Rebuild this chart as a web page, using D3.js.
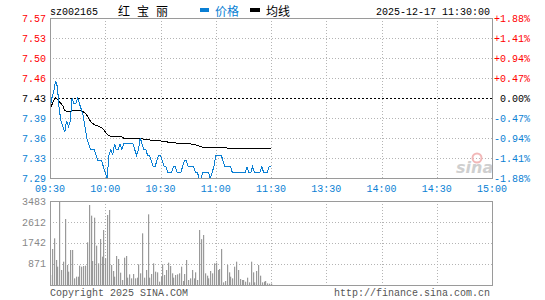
<!DOCTYPE html>
<html>
<head>
<meta charset="utf-8">
<script src="https://cdn.jsdelivr.net/npm/d3@7"></script>
<style>
  body { margin: 0; background: #fff; }
  svg { display: block; }
  text { font-family: "Liberation Mono", "DejaVu Sans Mono", monospace; font-size: 10px; }
</style>
</head>
<body>
<div id="chart"></div>
<script>
// previous close and axis labels
const prevClose = 7.43;
const pctLevels = [1.88, 1.41, 0.94, 0.47, 0, -0.47, -0.94, -1.41, -1.88];
const priceLabels = ["7.57", "7.53", "7.50", "7.46", "7.43", "7.39", "7.36", "7.33", "7.29"];
const pctLabels = ["+1.88%", "+1.41%", "+0.94%", "+0.47%", "0.00%", "-0.47%", "-0.94%", "-1.41%", "-1.88%"];
const timeLabels = ["09:30", "10:00", "10:30", "11:00", "11:30", "13:30", "14:00", "14:30", "15:00"];
const volTicks = [3483, 2612, 1742, 871];

// minute data 09:30 - 11:30
const price = [
  7.41, 7.43, 7.44, 7.46, 7.45, 7.41, 7.39, 7.38, 7.37, 7.39,
  7.38, 7.39, 7.43, 7.42, 7.42, 7.43, 7.42, 7.41, 7.40, 7.38,
  7.36, 7.35, 7.34, 7.34, 7.34, 7.33, 7.32, 7.32, 7.32, 7.31,
  7.30, 7.29, 7.33, 7.34, 7.33, 7.35, 7.34, 7.34, 7.35, 7.34,
  7.35, 7.35, 7.35, 7.35, 7.35, 7.35, 7.34, 7.33, 7.34, 7.36,
  7.35, 7.34, 7.34, 7.33, 7.33, 7.32, 7.31, 7.31, 7.32, 7.33,
  7.33, 7.32, 7.31, 7.31, 7.30, 7.30, 7.30, 7.31, 7.31, 7.30,
  7.30, 7.30, 7.31, 7.32, 7.32, 7.31, 7.31, 7.31, 7.31, 7.30,
  7.30, 7.29, 7.29, 7.30, 7.30, 7.30, 7.30, 7.29, 7.30, 7.31,
  7.33, 7.33, 7.33, 7.33, 7.32, 7.31, 7.31, 7.31, 7.31, 7.30,
  7.30, 7.30, 7.30, 7.30, 7.30, 7.30, 7.30, 7.31, 7.30, 7.30,
  7.31, 7.30, 7.30, 7.30, 7.30, 7.31, 7.30, 7.30, 7.30, 7.31,
  7.31
];

const avgPrice = [
  7.410, 7.418, 7.425, 7.430, 7.428, 7.424, 7.420, 7.416, 7.408, 7.407,
  7.407, 7.407, 7.408, 7.408, 7.408, 7.408, 7.408, 7.408, 7.406, 7.404,
  7.400, 7.395, 7.389, 7.386, 7.384, 7.382, 7.381, 7.380, 7.378, 7.375,
  7.371, 7.367, 7.364, 7.363, 7.363, 7.363, 7.363, 7.363, 7.362, 7.362,
  7.360, 7.360, 7.360, 7.360, 7.360, 7.360, 7.360, 7.360, 7.360, 7.360,
  7.360, 7.357, 7.357, 7.357, 7.357, 7.356, 7.356, 7.356, 7.356, 7.355,
  7.355, 7.354, 7.354, 7.354, 7.353, 7.353, 7.353, 7.352, 7.352, 7.351,
  7.351, 7.351, 7.351, 7.350, 7.350, 7.350, 7.350, 7.349, 7.348, 7.348,
  7.347, 7.346, 7.345, 7.344, 7.344, 7.344, 7.344, 7.344, 7.344, 7.344,
  7.344, 7.343, 7.343, 7.343, 7.343, 7.343, 7.343, 7.342, 7.342, 7.342,
  7.342, 7.342, 7.341, 7.341, 7.341, 7.341, 7.341, 7.341, 7.341, 7.341,
  7.341, 7.341, 7.341, 7.341, 7.341, 7.341, 7.341, 7.341, 7.341, 7.341,
  7.341
];

const volume = [
  415, 1493, 1935, 1037, 760, 3483, 622, 967, 2736, 829,
  553, 1451, 1451, 276, 345, 345, 801, 760, 788, 801,
  1769, 3317, 2875, 995, 2792, 1631, 898, 1907, 1175, 2280,
  1106, 2902, 3110, 829, 580, 345, 1202, 1078, 511, 207,
  1133, 1202, 304, 442, 276, 456, 276, 304, 857, 484,
  2142, 304, 622, 2930, 304, 456, 898, 553, 525, 138,
  345, 857, 415, 622, 926, 788, 484, 304, 415, 442,
  484, 760, 166, 456, 1037, 207, 276, 622, 276, 525,
  207, 2280, 1900, 2073, 484, 387, 276, 580, 484, 898,
  926, 622, 663, 1493, 110, 166, 829, 525, 345, 276,
  760, 967, 622, 249, 207, 207, 138, 304, 110, 967,
  525, 110, 580, 829, 387, 110, 138, 166, 69, 55,
  60
];

const W = 545, H = 300;
const left = 50, right = 492;
const pTop = 18, pBottom = 178;
const vTop = 201, vBottom = 285;

const red = "#ff0000", blue = "#0a7fd4", grid = "#b4b4b4", frame = "#9a9a9a";

const svg = d3.select("#chart").append("svg")
  .attr("width", W)
  .attr("height", H)
  .attr("viewBox", [0, 0, W, H]);

// scales
const x = d3.scaleLinear().domain([0, 240]).range([left, right]);
const y = d3.scaleLinear()
  .domain([prevClose * (1 - 0.0188), prevClose * (1 + 0.0188)])
  .range([pBottom, pTop]);
const yv = d3.scaleLinear().domain([0, 3483]).range([vBottom, vTop]);

const levelY = p => Math.round(y(prevClose * (1 + p / 100))) + 0.5;
const labelColor = i => i < 4 ? red : (i === 4 ? "#000" : blue);
const timeTicks = d3.range(0, 241, 30);

///////////////////////////////
// header
svg.append("text").attr("x", 50).attr("y", 15).attr("fill", "#000").text("sz002165");
// one x per character, spaces included
svg.append("text").attr("x", "118 131 137 150 156").attr("y", 16)
  .style("font-family", "'Noto Sans CJK SC', sans-serif").style("font-size", "12px")
  .attr("fill", "#000").text("红 宝 丽");
svg.append("rect").attr("x", 200).attr("y", 8).attr("width", 9).attr("height", 4).attr("fill", blue);
svg.append("text").attr("x", 215).attr("y", 16)
  .style("font-family", "'Noto Sans CJK SC', sans-serif").style("font-size", "12px")
  .attr("fill", blue).text("价格");
svg.append("rect").attr("x", 250).attr("y", 8).attr("width", 10).attr("height", 4).attr("fill", "#000");
svg.append("text").attr("x", 266).attr("y", 16)
  .style("font-family", "'Noto Sans CJK SC', sans-serif").style("font-size", "12px")
  .attr("fill", "#000").text("均线");
svg.append("text").attr("x", 490).attr("y", 15).attr("text-anchor", "end")
  .attr("fill", "#000").text("2025-12-17 11:30:00");

///////////////////////////////
// price grid
const pg = svg.append("g");
pg.selectAll("line.h")
  .data(pctLevels.filter(p => p !== 0 && Math.abs(p) !== 1.88))
  .join("line")
  .attr("x1", left).attr("x2", right)
  .attr("y1", levelY).attr("y2", levelY)
  .attr("stroke", grid).attr("stroke-dasharray", "1,2");

pg.selectAll("line.v")
  .data(timeTicks.slice(1, -1))
  .join("line")
  .attr("x1", d => Math.round(x(d)) + 0.5).attr("x2", d => Math.round(x(d)) + 0.5)
  .attr("y1", pTop).attr("y2", pBottom)
  .attr("stroke", grid).attr("stroke-dasharray", "1,2");

// previous close line
pg.append("line")
  .attr("x1", left).attr("x2", right)
  .attr("y1", levelY(0)).attr("y2", levelY(0))
  .attr("stroke", "#000").attr("stroke-dasharray", "2,2");

// watermark
svg.append("circle").attr("cx", 477).attr("cy", 158).attr("r", 4.5)
  .attr("fill", "none").attr("stroke", "#f2b8b8").attr("stroke-width", 2);
svg.append("text").attr("x", 456).attr("y", 173)
  .style("font-family", "'DejaVu Sans', sans-serif").style("font-size", "16px")
  .style("font-weight", "bold").style("font-style", "italic")
  .attr("fill", "#cfcfcf").text("sina");

// lines
const line = d3.line().x((d, i) => x(i)).y(d => y(d));

svg.append("path").datum(avgPrice)
  .attr("d", line).attr("fill", "none")
  .attr("stroke", "#000").attr("stroke-width", 1)
  .attr("shape-rendering", "crispEdges");

svg.append("path").datum(price)
  .attr("d", line).attr("fill", "none")
  .attr("stroke", blue).attr("stroke-width", 1)
  .attr("shape-rendering", "crispEdges");

// frame
svg.append("rect")
  .attr("x", left + 0.5).attr("y", pTop + 0.5)
  .attr("width", right - left).attr("height", pBottom - pTop)
  .attr("fill", "none").attr("stroke", frame);

// left and right labels
svg.append("g").selectAll("text")
  .data(priceLabels)
  .join("text")
  .attr("x", 46).attr("y", (d, i) => levelY(pctLevels[i]))
  .attr("dy", "0.35em").attr("text-anchor", "end")
  .attr("fill", (d, i) => labelColor(i))
  .text(d => d);

svg.append("g").selectAll("text")
  .data(pctLabels)
  .join("text")
  .attr("x", 530).attr("y", (d, i) => levelY(pctLevels[i]))
  .attr("dy", "0.35em").attr("text-anchor", "end")
  .attr("fill", (d, i) => labelColor(i))
  .text(d => d);

// time labels
svg.append("g").selectAll("text")
  .data(timeLabels)
  .join("text")
  .attr("x", (d, i) => x(timeTicks[i]))
  .attr("y", 188).attr("dy", "0.35em").attr("text-anchor", "middle")
  .attr("fill", blue)
  .text(d => d);

///////////////////////////////
// volume panel
const vg = svg.append("g");
vg.selectAll("line.h")
  .data(volTicks.slice(1))
  .join("line")
  .attr("x1", left).attr("x2", right)
  .attr("y1", d => Math.round(yv(d)) + 0.5).attr("y2", d => Math.round(yv(d)) + 0.5)
  .attr("stroke", grid).attr("stroke-dasharray", "1,2");

vg.selectAll("line.v")
  .data(timeTicks.slice(1, -1))
  .join("line")
  .attr("x1", d => Math.round(x(d)) + 0.5).attr("x2", d => Math.round(x(d)) + 0.5)
  .attr("y1", vTop).attr("y2", vBottom)
  .attr("stroke", grid).attr("stroke-dasharray", "1,2");

vg.selectAll("rect.bar")
  .data(volume)
  .join("rect")
  .attr("x", (d, i) => Math.round(x(i)))
  .attr("y", d => yv(d))
  .attr("width", 1.2)
  .attr("height", d => vBottom - yv(d))
  .attr("fill", "#999");

vg.append("rect")
  .attr("x", left + 0.5).attr("y", vTop + 0.5)
  .attr("width", right - left).attr("height", vBottom - vTop)
  .attr("fill", "none").attr("stroke", frame);

vg.selectAll("text.vl")
  .data(volTicks)
  .join("text")
  .attr("x", 46).attr("y", d => yv(d))
  .attr("dy", "0.35em").attr("text-anchor", "end")
  .attr("fill", "#888")
  .text(d => d);

// footer
svg.append("text").attr("x", 50).attr("y", 296).attr("fill", "#555").text("Copyright 2025 SINA.COM");
svg.append("text").attr("x", 490).attr("y", 296).attr("text-anchor", "end")
  .attr("fill", "#555").text("http://finance.sina.com.cn");
</script>
</body>
</html>
